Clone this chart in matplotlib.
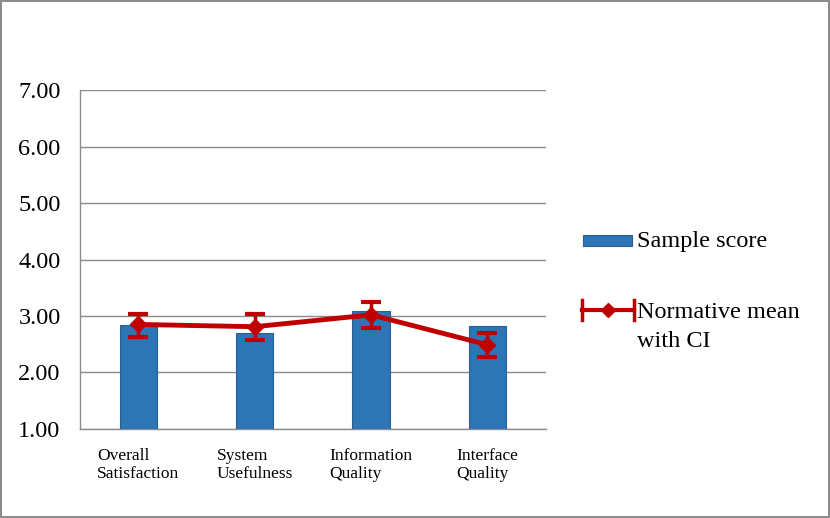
import matplotlib.pyplot as plt
from matplotlib.patches import Rectangle
from matplotlib.lines import Line2D

categories = ['Overall\nSatisfaction', 'System\nUsefulness', 'Information\nQuality', 'Interface\nQuality']
sample_score = [2.84, 2.70, 3.08, 2.82]
norm_mean = [2.85, 2.81, 3.02, 2.49]
ci_low = [2.63, 2.57, 2.78, 2.28]
ci_high = [3.03, 3.03, 3.24, 2.70]
y_ticks = [1.0, 2.0, 3.0, 4.0, 5.0, 6.0, 7.0]

plt.rcParams['font.family'] = ['Liberation Serif', 'DejaVu Serif']

fig = plt.figure(figsize=(8.3, 5.18), dpi=100)
fig.patch.set_edgecolor('#8c8c8c')
fig.patch.set_linewidth(1.5)
ax = fig.add_axes([0.0964, 0.172, 0.561, 0.654])

x = list(range(len(categories)))
ax.bar(x, [s - 1 for s in sample_score], bottom=1, width=0.32, color='#2E75B6',
       edgecolor='#2a5f91', linewidth=0.8, zorder=3)

err_lo = [m - l for m, l in zip(norm_mean, ci_low)]
err_hi = [h - m for m, h in zip(norm_mean, ci_high)]
ax.errorbar(x, norm_mean, yerr=[err_lo, err_hi], color='#C00000', linewidth=3.5,
            marker='D', markersize=8, elinewidth=2.5, capsize=7.5, capthick=3, zorder=4)

ax.set_xlim(-0.5, 3.5)
ax.set_ylim(1, 7)
ax.set_yticks(y_ticks)
ax.set_yticklabels([f'{v:.2f}' for v in y_ticks], fontsize=17.5)
ax.set_xticks(x)
ax.set_xticklabels(categories, fontsize=12.5, multialignment='left', linespacing=1.1)
ax.tick_params(length=0)
ax.tick_params(axis='x', pad=14)
ax.tick_params(axis='y', pad=14)
ax.grid(axis='y', color='#8c8c8c', linewidth=1, zorder=0)
ax.set_axisbelow(True)
for s in ['top', 'right']:
    ax.spines[s].set_visible(False)
for s in ['left', 'bottom']:
    ax.spines[s].set_color('#8c8c8c')
    ax.spines[s].set_linewidth(1)

# legend drawn by hand
fig.add_artist(Rectangle((583 / 830, 1 - 246 / 518), 49 / 830, 11 / 518,
                         facecolor='#2E75B6', edgecolor='#2a5f91', linewidth=0.8))
fig.text(637 / 830, 1 - 241 / 518, 'Sample score', fontsize=17.5, va='center')
ly = 1 - 310 / 518
fig.add_artist(Line2D([582 / 830, 634 / 830], [ly, ly], color='#C00000', linewidth=3))
fig.add_artist(Line2D([608 / 830], [ly], color='#C00000', marker='D', markersize=7))
fig.add_artist(Line2D([582 / 830, 582 / 830], [ly - 10 / 518, ly + 10 / 518], color='#C00000', linewidth=2.5))
fig.add_artist(Line2D([634 / 830, 634 / 830], [ly - 10 / 518, ly + 10 / 518], color='#C00000', linewidth=2.5))
fig.text(637 / 830, 1 - 327 / 518, 'Normative mean\nwith CI', fontsize=17.5, va='center', linespacing=1.45)

fig.savefig('out.png', dpi=100)
